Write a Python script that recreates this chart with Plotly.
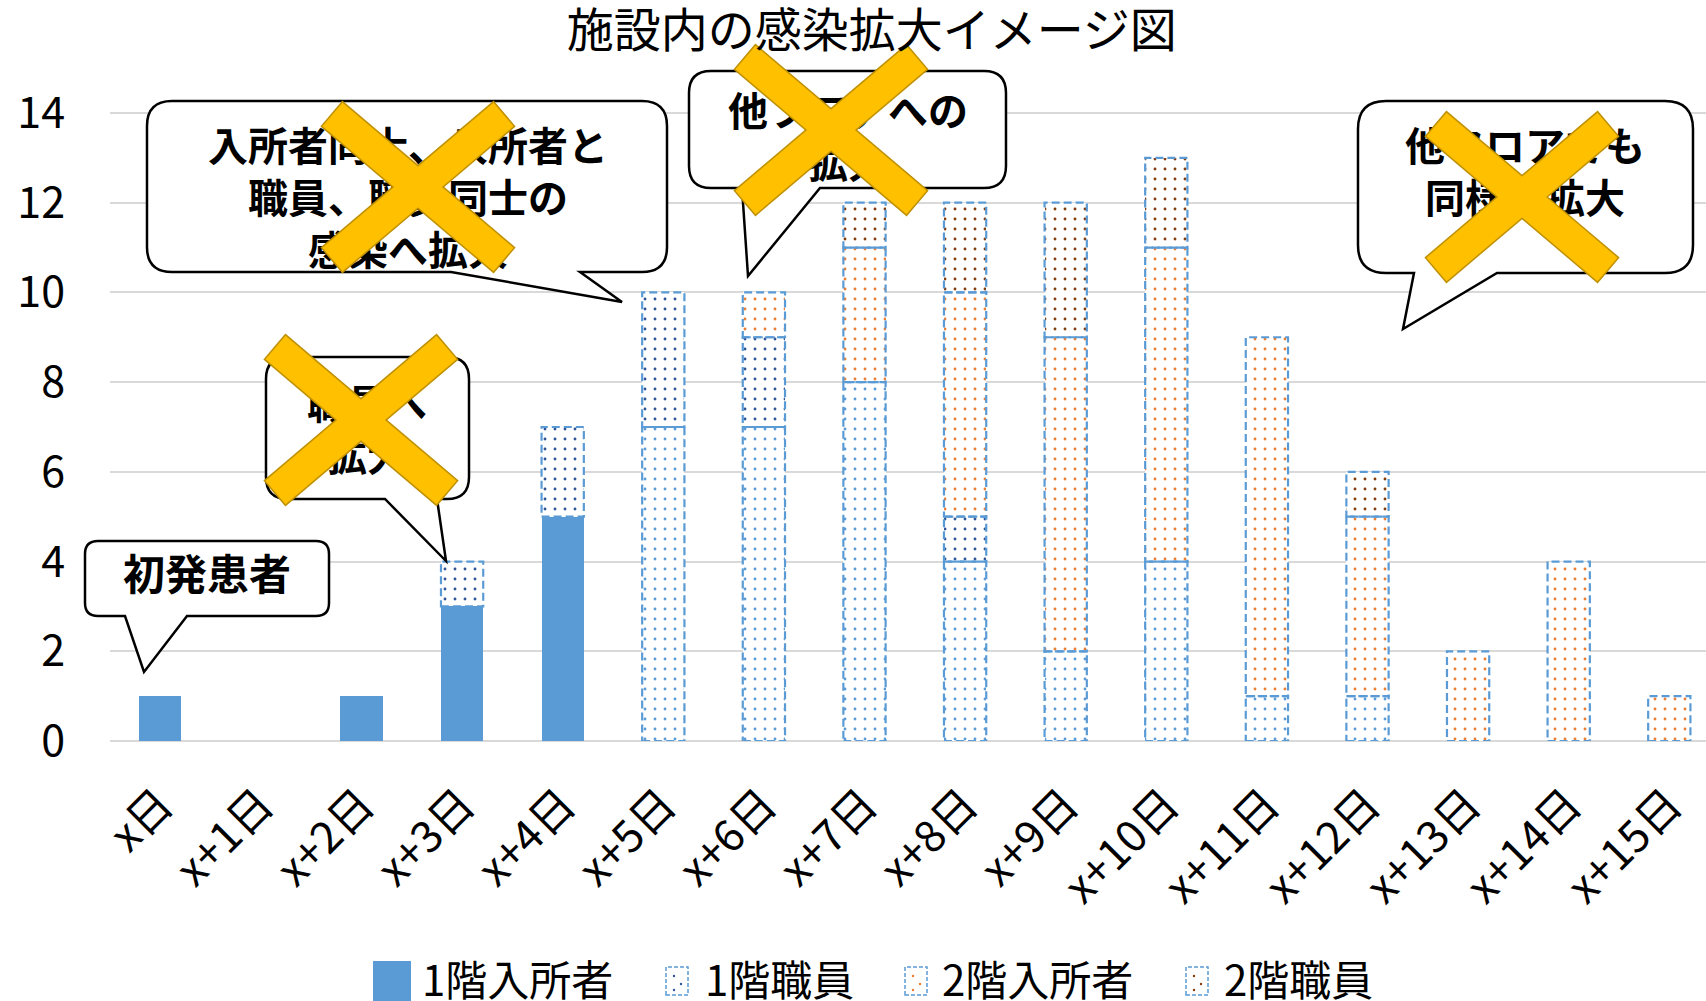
import math
import plotly.graph_objects as go

# ---------------- data ----------------
days = ["x日", "x+1日", "x+2日", "x+3日", "x+4日", "x+5日", "x+6日", "x+7日",
        "x+8日", "x+9日", "x+10日", "x+11日", "x+12日", "x+13日", "x+14日", "x+15日"]
floor1_residents = [1, 0, 1, 3, 5, 7, 7, 8, 4, 2, 4, 1, 1, 0, 0, 0]
floor1_staff = [0, 0, 0, 1, 2, 3, 2, 0, 1, 0, 0, 0, 0, 0, 0, 0]
floor2_residents = [0, 0, 0, 0, 0, 0, 1, 3, 5, 7, 7, 8, 4, 2, 4, 1]
floor2_staff = [0, 0, 0, 0, 0, 0, 0, 1, 2, 3, 2, 0, 1, 0, 0, 0]
series_names = ["1階入所者", "1階職員", "2階入所者", "2階職員"]
confirmed_days = 5          # first days drawn with solid fill
y_ticks = [0, 2, 4, 6, 8, 10, 12, 14]
title_text = "施設内の感染拡大イメージ図"

callout_texts = ["初発患者", "職員へ<br>拡大", "入所者同士、入所者と<br>職員、職員同士の<br>感染へ拡大",
                 "他フロアへの<br>拡大", "他フロアでも<br>同様に拡大"]

# ---------------- style ----------------
BLUE = "#5B9BD5"
DOT_COLORS = ["#5B9BD5", "#2F5597", "#ED7D31", "#843C0C"]
YELLOW = "#FFC000"
GOLD = "#BF9000"
FONT = "Noto Sans CJK JP"
BAR_W = 0.42

W, H = 1706, 1001
ML, MR, MT, MB = 110, 0, 104, 260
PW = W - ML - MR
PH = H - MT - MB


def px(x):
    return (x - ML) / PW


def py(y):
    return (H - MB - y) / PH


fig = go.Figure()
all_series = [floor1_residents, floor1_staff, floor2_residents, floor2_staff]
n = len(days)
for k, (name, vals) in enumerate(zip(series_names, all_series)):
    if k == 0:
        shapes = ["" if i < confirmed_days else "." for i in range(n)]
    else:
        shapes = "."
    fig.add_trace(go.Bar(
        x=days, y=vals, name=name, width=BAR_W, showlegend=False,
        marker=dict(color=DOT_COLORS[k], line=dict(width=0),
                    pattern=dict(shape=shapes, fgcolor=DOT_COLORS[k], bgcolor="white",
                                 fgopacity=1, size=10, solidity=0.065, fillmode="replace")),
    ))

shape_list = []
# dashed outlines of patterned segments, derived from the data
base = [0] * n
for k, vals in enumerate(all_series):
    for i, v in enumerate(vals):
        patterned = not (k == 0 and i < confirmed_days)
        if v > 0 and patterned:
            shape_list.append(dict(type="rect", xref="x", yref="y",
                                   x0=i - BAR_W / 2, x1=i + BAR_W / 2, y0=base[i], y1=base[i] + v,
                                   line=dict(color=BLUE, width=2.2, dash="8px,4px"),
                                   fillcolor="rgba(0,0,0,0)", layer="above"))
        base[i] += v


# ---------------- callouts ----------------
def callout_path(x0, y0, x1, y1, r, bl, br, tip):
    pts = [("M", (x0 + r, y0)), ("L", (x1 - r, y0)), ("Q", (x1, y0), (x1, y0 + r)),
           ("L", (x1, y1 - r)), ("Q", (x1, y1), (x1 - r, y1)), ("L", (br, y1)),
           ("L", tip), ("L", (bl, y1)), ("L", (x0 + r, y1)), ("Q", (x0, y1), (x0, y1 - r)),
           ("L", (x0, y0 + r)), ("Q", (x0, y0), (x0 + r, y0))]
    s = ""
    for p in pts:
        cmd = p[0]
        coords = " ".join(f"{px(a):.5f},{py(b):.5f}" for a, b in p[1:])
        s += f"{cmd}{coords} "
    return s + "Z"


# box (x0, y0, x1, y1), radius, tail base left, right, tip, text center, font size, X center
callouts = [
    ((85, 541, 329, 616), 13, 125, 187, (144, 672), (207, 578), 42, None),
    ((266, 357, 469, 499), 22, 385, 437, (446, 561), (367, 434), 40, (361, 420)),
    ((147, 101, 667, 272), 25, 451, 580, (622, 302), (408, 202), 40, (418, 187)),
    ((689, 71, 1006, 188), 22, 742, 820, (748, 276), (848, 141), 40, (831, 130)),
    ((1358, 101, 1693, 273), 28, 1414, 1497, (1403, 329), (1525, 176), 40, (1522, 197)),
]


def x_mark(cx, cy, dx=85.5, dy=72.5, t=31):
    arms = [((cx - dx, cy - dy), (cx + dx, cy + dy)), ((cx - dx, cy + dy), (cx + dx, cy - dy))]
    L = math.hypot(2 * dx, 2 * dy)
    out = []
    for color, width, ext in ((GOLD, t + 3, 1.5), (YELLOW, t, 0)):
        for (ax, ay), (bx, by) in arms:
            ux, uy = (bx - ax) / L, (by - ay) / L
            out.append(dict(type="line", xref="paper", yref="paper",
                            x0=px(ax - ux * ext), y0=py(ay - uy * ext),
                            x1=px(bx + ux * ext), y1=py(by + uy * ext),
                            line=dict(color=color, width=width), layer="above"))
    return out


for text, (box, r, bl, br, tip, tc, fs, xc) in zip(callout_texts, callouts):
    x0, y0, x1, y1 = box
    shape_list.append(dict(type="path", xref="paper", yref="paper",
                           path=callout_path(x0, y0, x1, y1, r, bl, br, tip),
                           line=dict(color="black", width=2.5), fillcolor="white", layer="above"))
    shape_list.append(dict(type="rect", xref="paper", yref="paper",
                           x0=px(tc[0] - 150), x1=px(tc[0] + 150), y0=py(tc[1] + 40), y1=py(tc[1] - 40),
                           line=dict(width=0), fillcolor="rgba(0,0,0,0)", layer="above",
                           label=dict(text=f"<b>{text}</b>", textposition="middle center",
                                      font=dict(family=FONT, size=fs, color="black"))))
    if xc is not None:
        shape_list += x_mark(*xc)

# ---------------- custom legend ----------------
annotations = []
icon_x = [373, 666, 905, 1186]
text_x = [420, 703, 940, 1222]
LEG_Y = 978
for k, name in enumerate(series_names):
    if k == 0:
        shape_list.append(dict(type="rect", xref="paper", yref="paper",
                               x0=px(icon_x[k]), x1=px(icon_x[k] + 38), y0=py(1001), y1=py(961),
                               line=dict(width=0), fillcolor=BLUE, layer="above"))
    else:
        ix = icon_x[k]
        shape_list.append(dict(type="rect", xref="paper", yref="paper",
                               x0=px(ix), x1=px(ix + 22), y0=py(995), y1=py(967),
                               line=dict(color=BLUE, width=1.5, dash="4px,2px"),
                               fillcolor="white", layer="above"))
        for ddx, ddy in ((8, 976), (15, 984), (8, 990)):
            shape_list.append(dict(type="circle", xref="paper", yref="paper",
                                   x0=px(ix + ddx - 1.2), x1=px(ix + ddx + 1.2),
                                   y0=py(ddy + 1.2), y1=py(ddy - 1.2),
                                   line=dict(width=0), fillcolor=DOT_COLORS[k], layer="above"))
    annotations.append(dict(text=name, xref="paper", yref="paper", x=px(text_x[k]), y=py(LEG_Y),
                            xanchor="left", yanchor="middle", showarrow=False,
                            font=dict(family=FONT, size=42, color="black")))

fig.update_layout(
    width=W, height=H,
    margin=dict(l=ML, r=MR, t=MT, b=MB, pad=0),
    paper_bgcolor="white", plot_bgcolor="white",
    barmode="stack", bargap=0.58,
    title=dict(text=title_text, x=0.511, xanchor="center", y=1 - 31 / H, yanchor="middle",
               font=dict(family=FONT, size=47, color="black")),
    xaxis=dict(type="category", categoryorder="array", categoryarray=days,
               range=[-0.5, -0.5 + PW / 100.6], showgrid=False, showline=False, ticks="",
               tickangle=-45, tickfont=dict(family=FONT, size=44, color="black"),
               ticklabelstandoff=28, fixedrange=True),
    yaxis=dict(range=[0, 14.2], tickvals=y_ticks, showgrid=True, gridcolor="#D9D9D9", gridwidth=1.5,
               zeroline=True, zerolinecolor="#D9D9D9", zerolinewidth=1.5, showline=False, ticks="",
               tickfont=dict(family=FONT, size=43, color="black"), ticklabelstandoff=44,
               fixedrange=True),
    shapes=shape_list,
    annotations=annotations,
    showlegend=False,
)

fig.write_html("out.html", config={"displayModeBar": False},
               post_script="document.body.style.margin='0px';")
